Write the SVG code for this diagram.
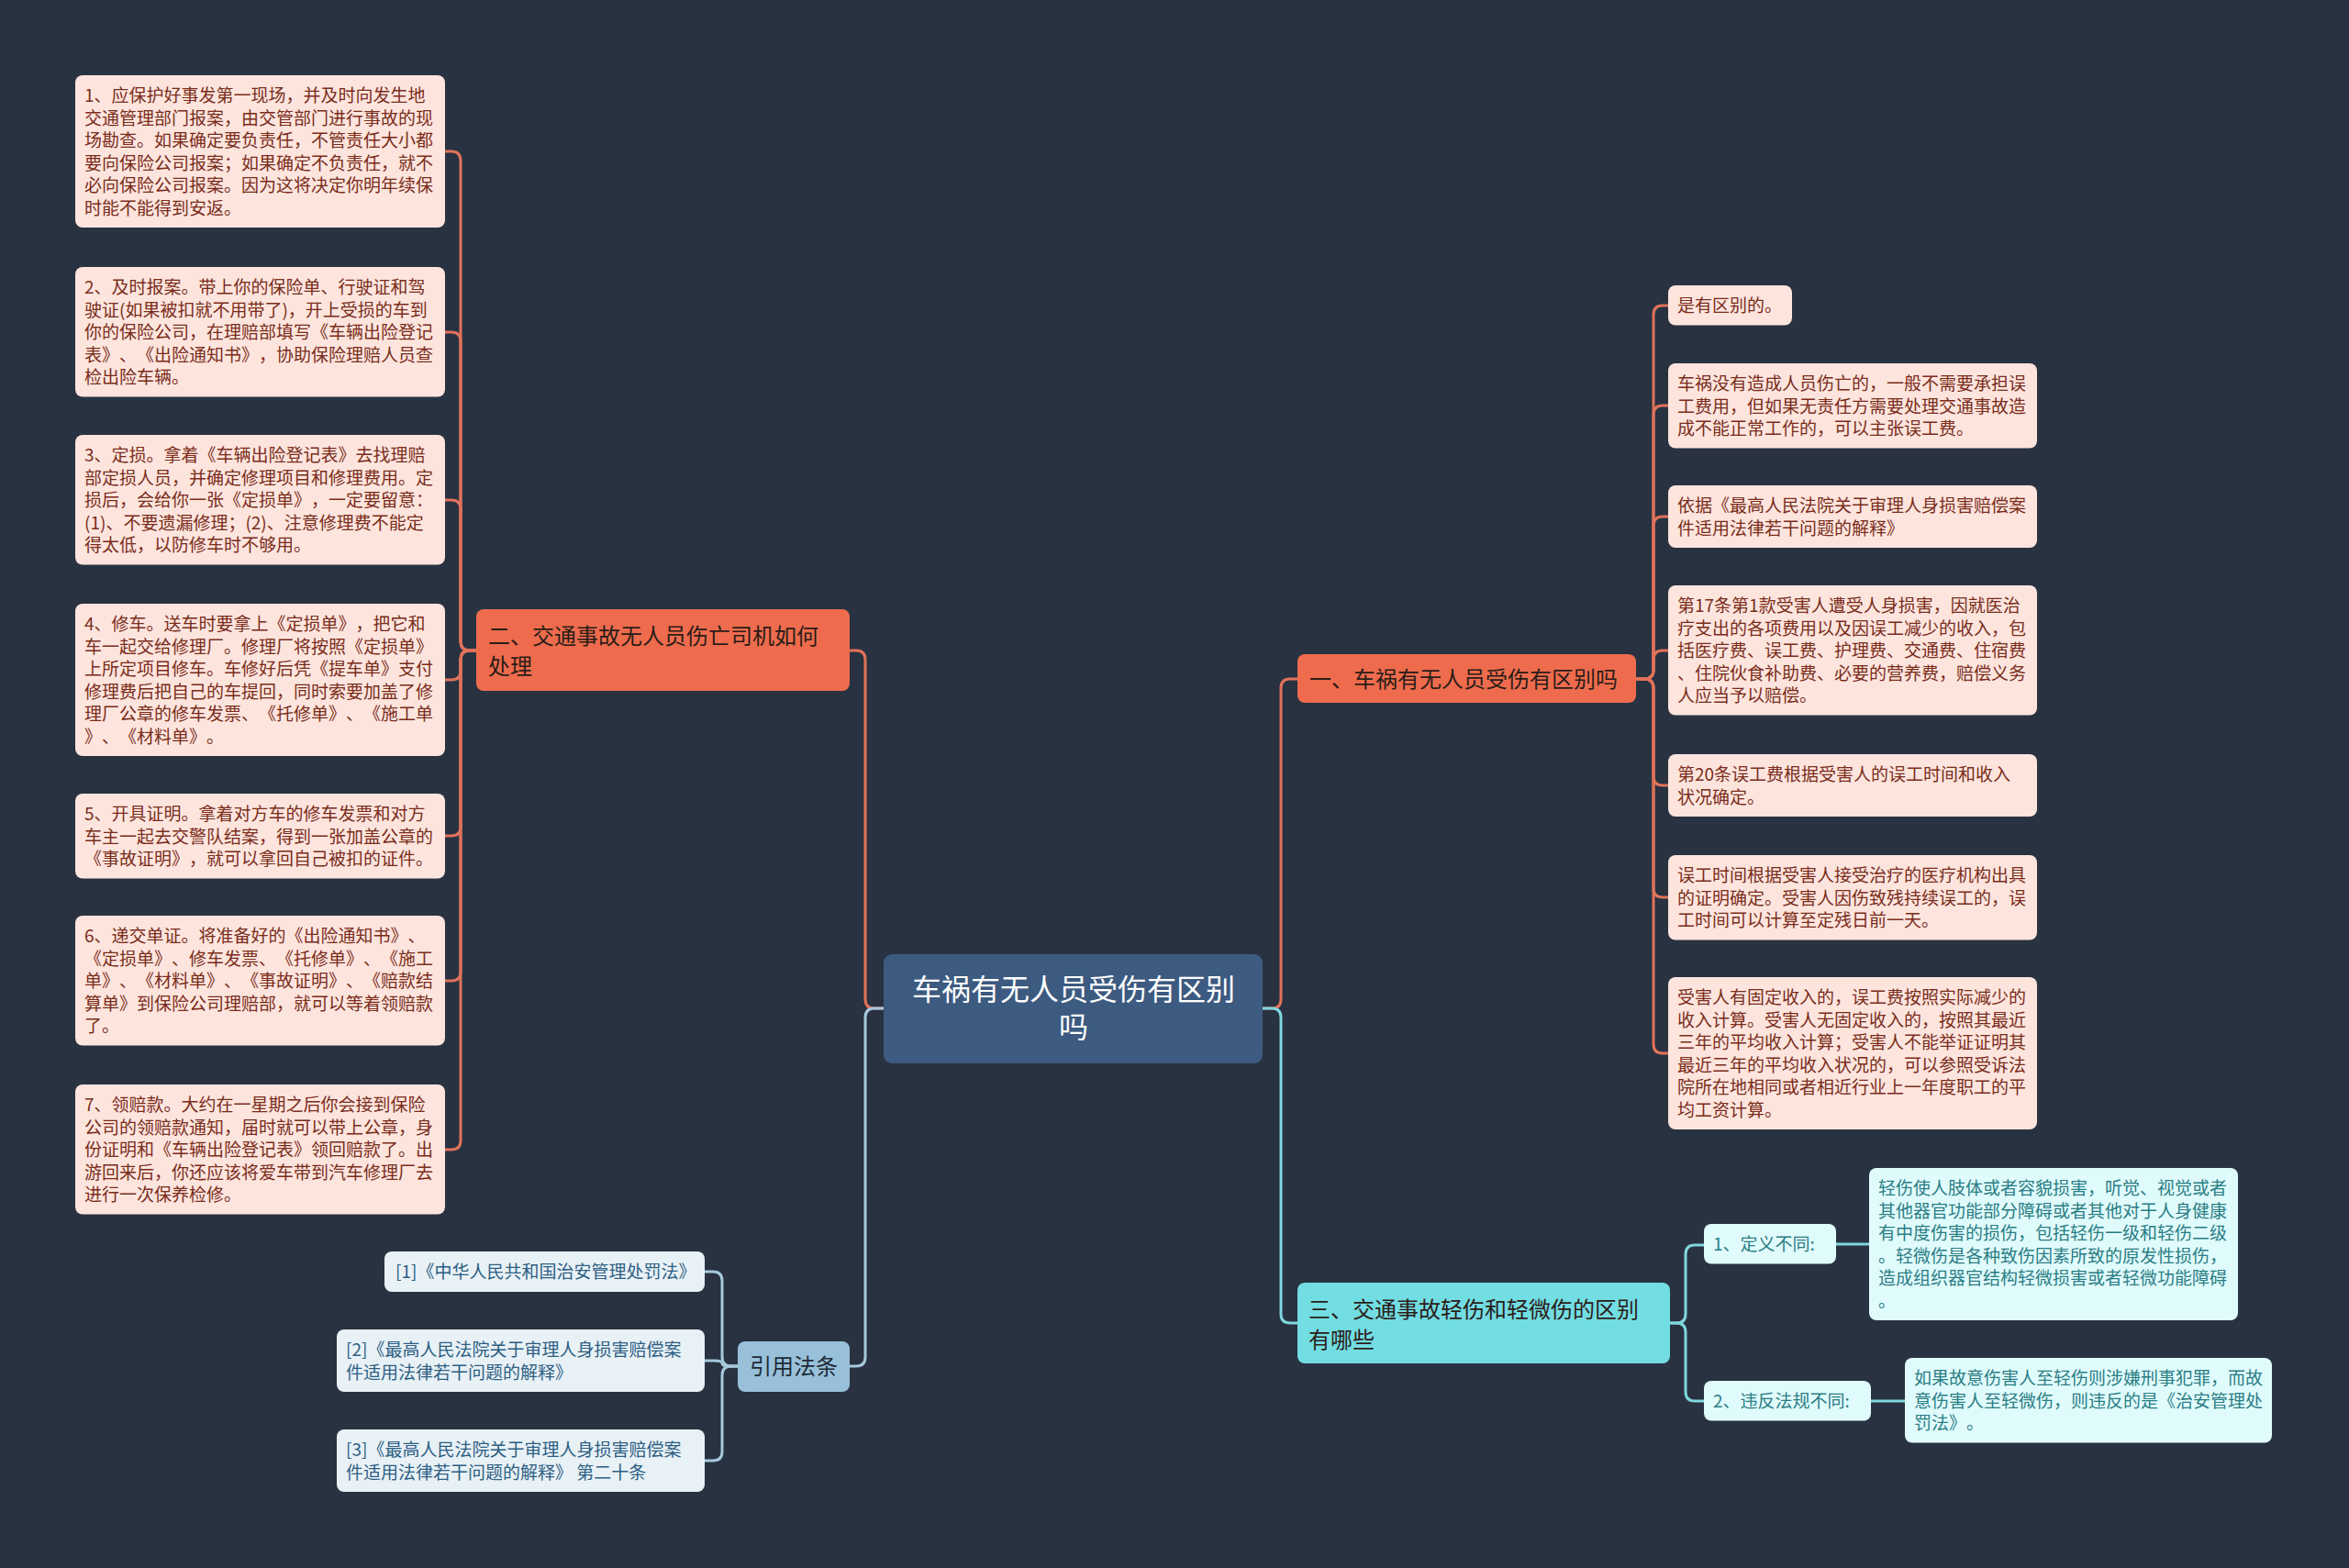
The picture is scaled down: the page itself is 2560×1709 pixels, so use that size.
<svg xmlns="http://www.w3.org/2000/svg" width="2560" height="1709" viewBox="0 0 2560 1709">
<style>
text{font-family:"Noto Sans CJK SC","Noto Sans",sans-serif;text-spacing-trim:space-all;font-feature-settings:"halt" 0,"chws" 0}
.ln{fill:none;stroke-width:3;stroke-linecap:round}
.lo{stroke:#e0735a}
.lb{stroke:#a6c8dd}
.lc{stroke:#7fd6dd}
.lfO{fill:#fde5de}
.tO{fill:#7a2c1a;font-size:19px}
.lfC{fill:#e0fbfc}
.tC{fill:#2a7d84;font-size:19px}
.lfB{fill:#e8f1f6}
.tB{fill:#2d5e83;font-size:19px}
.mO{fill:#ee6c4d}
.tM{fill:#2b1c18;font-size:24px}
</style>
<rect width="2560" height="1709" fill="#293241"/>
<g id="connectors">
<path class="ln lo" d="M963,1099 H953 Q943,1099 943,1089 V719 Q943,709 933,709 H926"/>
<path class="ln lb" d="M963,1099 H953 Q943,1099 943,1109 V1479 Q943,1489 933,1489 H926"/>
<path class="ln lo" d="M1376,1099 H1386 Q1396,1099 1396,1089 V750 Q1396,740 1406,740 H1414"/>
<path class="ln lc" d="M1376,1099 H1386 Q1396,1099 1396,1109 V1432 Q1396,1442 1406,1442 H1414"/>
<path class="ln lo" d="M519,709 H512 Q502,709 502,699 V175 Q502,165 492,165 H485"/>
<path class="ln lo" d="M519,709 H512 Q502,709 502,699 V372 Q502,362 492,362 H485"/>
<path class="ln lo" d="M519,709 H512 Q502,709 502,699 V555 Q502,545 492,545 H485"/>
<path class="ln lo" d="M519,709 H512 Q502,709 502,719 V731 Q502,741 492,741 H485"/>
<path class="ln lo" d="M519,709 H512 Q502,709 502,719 V901 Q502,911 492,911 H485"/>
<path class="ln lo" d="M519,709 H512 Q502,709 502,719 V1059 Q502,1069 492,1069 H485"/>
<path class="ln lo" d="M519,709 H512 Q502,709 502,719 V1243 Q502,1253 492,1253 H485"/>
<path class="ln lo" d="M1783,740 H1792 Q1802,740 1802,730 V343 Q1802,333 1812,333 H1818"/>
<path class="ln lo" d="M1783,740 H1792 Q1802,740 1802,730 V452 Q1802,442 1812,442 H1818"/>
<path class="ln lo" d="M1783,740 H1792 Q1802,740 1802,730 V573 Q1802,563 1812,563 H1818"/>
<path class="ln lo" d="M1783,740 H1792 Q1802,740 1802,730 V719 Q1802,709 1812,709 H1818"/>
<path class="ln lo" d="M1783,740 H1792 Q1802,740 1802,750 V846 Q1802,856 1812,856 H1818"/>
<path class="ln lo" d="M1783,740 H1792 Q1802,740 1802,750 V968 Q1802,978 1812,978 H1818"/>
<path class="ln lo" d="M1783,740 H1792 Q1802,740 1802,750 V1138 Q1802,1148 1812,1148 H1818"/>
<path class="ln lc" d="M1820,1442 H1827 Q1837,1442 1837,1432 V1367 Q1837,1357 1847,1357 H1857"/>
<path class="ln lc" d="M1820,1442 H1827 Q1837,1442 1837,1452 V1517 Q1837,1527 1847,1527 H1857"/>
<path class="ln lc" d="M2001,1356 H2037"/>
<path class="ln lc" d="M2039,1527 H2076"/>
<path class="ln lb" d="M804,1489 H797 Q787,1489 787,1479 V1396 Q787,1386 777,1386 H768"/>
<path class="ln lb" d="M804,1489 H795 Q787,1489 787,1486 Q787,1483 779,1483 H768"/>
<path class="ln lb" d="M804,1489 H797 Q787,1489 787,1499 V1582 Q787,1592 777,1592 H768"/>
</g>
<g id="root">
<rect x="963" y="1040" width="413" height="119" rx="9" fill="#3d5a80"/>
<text x="1170" y="1090" font-size="32" fill="#ffffff" text-anchor="middle">车祸有无人员受伤有区别</text>
<text x="1170" y="1131" font-size="32" fill="#ffffff" text-anchor="middle">吗</text>
</g>
<g id="n2">
<rect class="mO" x="519" y="664" width="407" height="89" rx="8"/>
<text class="tM" x="532" y="702">二、交通事故无人员伤亡司机如何<tspan x="532" dy="33">处理</tspan></text>
</g>
<g id="n1">
<rect class="mO" x="1414" y="713" width="369" height="53" rx="8"/>
<text class="tM" x="1427" y="749">一、车祸有无人员受伤有区别吗</text>
</g>
<g id="n3">
<rect x="1414" y="1398" width="406" height="88" rx="8" fill="#72dde3"/>
<text class="tM" x="1426" y="1436" fill="#17343a">三、交通事故轻伤和轻微伤的区别<tspan x="1426" dy="33">有哪些</tspan></text>
</g>
<g id="n4">
<rect x="804" y="1462" width="122" height="55" rx="8" fill="#98c1d9"/>
<text x="865" y="1498" font-size="24" fill="#1e2a38" text-anchor="middle">引用法条</text>
</g>
<g id="l1">
<rect class="lfO" x="82" y="82" width="403" height="166" rx="8"/>
<text class="tO" x="92" y="111">1、应保护好事发第一现场，并及时向发生地<tspan x="92" dy="24.5">交通管理部门报案，由交管部门进行事故的现</tspan><tspan x="92" dy="24.5">场勘查。如果确定要负责任，不管责任大小都</tspan><tspan x="92" dy="24.5">要向保险公司报案；如果确定不负责任，就不</tspan><tspan x="92" dy="24.5">必向保险公司报案。因为这将决定你明年续保</tspan><tspan x="92" dy="24.5">时能不能得到安返。</tspan></text>
</g>
<g id="l2">
<rect class="lfO" x="82" y="291" width="403" height="141.5" rx="8"/>
<text class="tO" x="92" y="320">2、及时报案。带上你的保险单、行驶证和驾<tspan x="92" dy="24.5">驶证(如果被扣就不用带了)，开上受损的车到</tspan><tspan x="92" dy="24.5">你的保险公司，在理赔部填写《车辆出险登记</tspan><tspan x="92" dy="24.5">表》、《出险通知书》，协助保险理赔人员查</tspan><tspan x="92" dy="24.5">检出险车辆。</tspan></text>
</g>
<g id="l3">
<rect class="lfO" x="82" y="474" width="403" height="141.5" rx="8"/>
<text class="tO" x="92" y="503">3、定损。拿着《车辆出险登记表》去找理赔<tspan x="92" dy="24.5">部定损人员，并确定修理项目和修理费用。定</tspan><tspan x="92" dy="24.5">损后，会给你一张《定损单》，一定要留意：</tspan><tspan x="92" dy="24.5">(1)、不要遗漏修理；(2)、注意修理费不能定</tspan><tspan x="92" dy="24.5">得太低，以防修车时不够用。</tspan></text>
</g>
<g id="l4">
<rect class="lfO" x="82" y="658" width="403" height="166" rx="8"/>
<text class="tO" x="92" y="687">4、修车。送车时要拿上《定损单》，把它和<tspan x="92" dy="24.5">车一起交给修理厂。修理厂将按照《定损单》</tspan><tspan x="92" dy="24.5">上所定项目修车。车修好后凭《提车单》支付</tspan><tspan x="92" dy="24.5">修理费后把自己的车提回，同时索要加盖了修</tspan><tspan x="92" dy="24.5">理厂公章的修车发票、《托修单》、《施工单</tspan><tspan x="92" dy="24.5">》、《材料单》。</tspan></text>
</g>
<g id="l5">
<rect class="lfO" x="82" y="865" width="403" height="92.5" rx="8"/>
<text class="tO" x="92" y="894">5、开具证明。拿着对方车的修车发票和对方<tspan x="92" dy="24.5">车主一起去交警队结案，得到一张加盖公章的</tspan><tspan x="92" dy="24.5">《事故证明》，就可以拿回自己被扣的证件。</tspan></text>
</g>
<g id="l6">
<rect class="lfO" x="82" y="998" width="403" height="141.5" rx="8"/>
<text class="tO" x="92" y="1027">6、递交单证。将准备好的《出险通知书》、<tspan x="92" dy="24.5">《定损单》、修车发票、《托修单》、《施工</tspan><tspan x="92" dy="24.5">单》、《材料单》、《事故证明》、《赔款结</tspan><tspan x="92" dy="24.5">算单》到保险公司理赔部，就可以等着领赔款</tspan><tspan x="92" dy="24.5">了。</tspan></text>
</g>
<g id="l7">
<rect class="lfO" x="82" y="1182" width="403" height="141.5" rx="8"/>
<text class="tO" x="92" y="1211">7、领赔款。大约在一星期之后你会接到保险<tspan x="92" dy="24.5">公司的领赔款通知，届时就可以带上公章，身</tspan><tspan x="92" dy="24.5">份证明和《车辆出险登记表》领回赔款了。出</tspan><tspan x="92" dy="24.5">游回来后，你还应该将爱车带到汽车修理厂去</tspan><tspan x="92" dy="24.5">进行一次保养检修。</tspan></text>
</g>
<g id="r1">
<rect class="lfO" x="1818" y="311" width="135" height="43.5" rx="8"/>
<text class="tO" x="1828" y="340">是有区别的。</text>
</g>
<g id="r2">
<rect class="lfO" x="1818" y="396" width="402" height="92.5" rx="8"/>
<text class="tO" x="1828" y="425">车祸没有造成人员伤亡的，一般不需要承担误<tspan x="1828" dy="24.5">工费用，但如果无责任方需要处理交通事故造</tspan><tspan x="1828" dy="24.5">成不能正常工作的，可以主张误工费。</tspan></text>
</g>
<g id="r3">
<rect class="lfO" x="1818" y="529" width="402" height="68" rx="8"/>
<text class="tO" x="1828" y="558">依据《最高人民法院关于审理人身损害赔偿案<tspan x="1828" dy="24.5">件适用法律若干问题的解释》</tspan></text>
</g>
<g id="r4">
<rect class="lfO" x="1818" y="638" width="402" height="141.5" rx="8"/>
<text class="tO" x="1828" y="667">第17条第1款受害人遭受人身损害，因就医治<tspan x="1828" dy="24.5">疗支出的各项费用以及因误工减少的收入，包</tspan><tspan x="1828" dy="24.5">括医疗费、误工费、护理费、交通费、住宿费</tspan><tspan x="1828" dy="24.5">、住院伙食补助费、必要的营养费，赔偿义务</tspan><tspan x="1828" dy="24.5">人应当予以赔偿。</tspan></text>
</g>
<g id="r5">
<rect class="lfO" x="1818" y="822" width="402" height="68" rx="8"/>
<text class="tO" x="1828" y="851">第20条误工费根据受害人的误工时间和收入<tspan x="1828" dy="24.5">状况确定。</tspan></text>
</g>
<g id="r6">
<rect class="lfO" x="1818" y="932" width="402" height="92.5" rx="8"/>
<text class="tO" x="1828" y="961">误工时间根据受害人接受治疗的医疗机构出具<tspan x="1828" dy="24.5">的证明确定。受害人因伤致残持续误工的，误</tspan><tspan x="1828" dy="24.5">工时间可以计算至定残日前一天。</tspan></text>
</g>
<g id="r7">
<rect class="lfO" x="1818" y="1065" width="402" height="166" rx="8"/>
<text class="tO" x="1828" y="1094">受害人有固定收入的，误工费按照实际减少的<tspan x="1828" dy="24.5">收入计算。受害人无固定收入的，按照其最近</tspan><tspan x="1828" dy="24.5">三年的平均收入计算；受害人不能举证证明其</tspan><tspan x="1828" dy="24.5">最近三年的平均收入状况的，可以参照受诉法</tspan><tspan x="1828" dy="24.5">院所在地相同或者相近行业上一年度职工的平</tspan><tspan x="1828" dy="24.5">均工资计算。</tspan></text>
</g>
<g id="c1">
<rect class="lfC" x="1857" y="1334" width="144" height="43.5" rx="8"/>
<text class="tC" x="1867" y="1363">1、定义不同:</text>
</g>
<g id="c2">
<rect class="lfC" x="1857" y="1505" width="182" height="43.5" rx="8"/>
<text class="tC" x="1867" y="1534">2、违反法规不同:</text>
</g>
<g id="c1d">
<rect class="lfC" x="2037" y="1273" width="402" height="166" rx="8"/>
<text class="tC" x="2047" y="1302">轻伤使人肢体或者容貌损害，听觉、视觉或者<tspan x="2047" dy="24.5">其他器官功能部分障碍或者其他对于人身健康</tspan><tspan x="2047" dy="24.5">有中度伤害的损伤，包括轻伤一级和轻伤二级</tspan><tspan x="2047" dy="24.5">。轻微伤是各种致伤因素所致的原发性损伤，</tspan><tspan x="2047" dy="24.5">造成组织器官结构轻微损害或者轻微功能障碍</tspan><tspan x="2047" dy="24.5">。</tspan></text>
</g>
<g id="c2d">
<rect class="lfC" x="2076" y="1480" width="400" height="92.5" rx="8"/>
<text class="tC" x="2086" y="1509">如果故意伤害人至轻伤则涉嫌刑事犯罪，而故<tspan x="2086" dy="24.5">意伤害人至轻微伤，则违反的是《治安管理处</tspan><tspan x="2086" dy="24.5">罚法》。</tspan></text>
</g>
<g id="ref1">
<rect class="lfB" x="419" y="1364" width="349" height="44" rx="8"/>
<text class="tB" x="431" y="1393">[1]《中华人民共和国治安管理处罚法》</text>
</g>
<g id="ref2">
<rect class="lfB" x="367" y="1449" width="401" height="68" rx="8"/>
<text class="tB" x="377" y="1478">[2]《最高人民法院关于审理人身损害赔偿案<tspan x="377" dy="24.5">件适用法律若干问题的解释》</tspan></text>
</g>
<g id="ref3">
<rect class="lfB" x="367" y="1558" width="401" height="68" rx="8"/>
<text class="tB" x="377" y="1587">[3]《最高人民法院关于审理人身损害赔偿案<tspan x="377" dy="24.5">件适用法律若干问题的解释》 第二十条</tspan></text>
</g>
</svg>
